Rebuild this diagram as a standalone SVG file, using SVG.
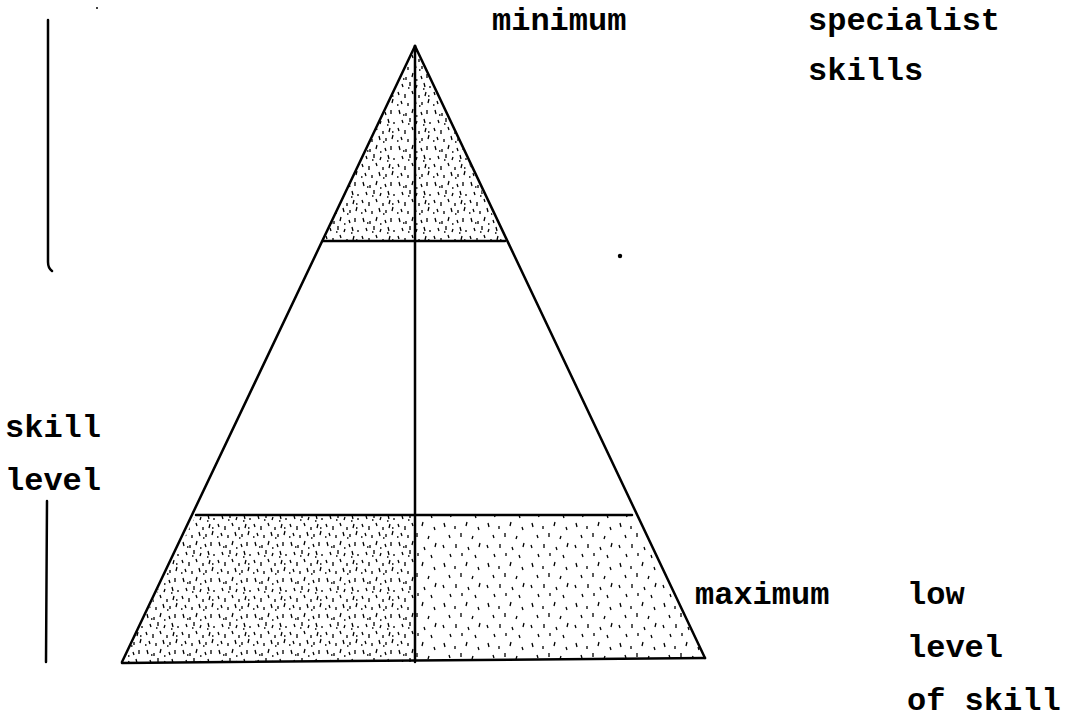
<svg xmlns="http://www.w3.org/2000/svg" width="1076" height="728" viewBox="0 0 1076 728">
<style>
.ln{stroke:#000;stroke-width:2.5;fill:none;stroke-linecap:round}
.t{font-family:"Liberation Mono","DejaVu Sans Mono",monospace;font-weight:bold;font-size:32px;fill:#000}
</style>
<defs>
<pattern id="stip" width="36" height="36" patternUnits="userSpaceOnUse">
<path d="M3 2 l1 4 M10 5 l0 3 M17 1 l-1 4 M25 4 l1 3 M31 2 l0 4 M6 12 l1 3 M14 10 l0 4 M21 13 l-1 3 M28 11 l1 4 M34 14 l0 2 M2 20 l1 3 M9 22 l0 4 M16 19 l1 3 M23 23 l0 3 M30 20 l-1 4 M5 29 l1 3 M12 31 l0 3 M19 28 l1 4 M26 30 l0 3 M33 27 l-1 4" stroke="#000" stroke-width="1.3" fill="none"/>
<path d="M7 7 h1.5 M20 8 h1.5 M12 16 h1.5 M32 24 h1.5 M1 33 h1.5 M23 34 h1.5 M27 17 h1.5" stroke="#000" stroke-width="1.5"/>
</pattern>
<pattern id="stip2" width="44" height="40" patternUnits="userSpaceOnUse">
<path d="M4 3 l1 4 M15 6 l0 3 M27 2 l-1 4 M38 7 l1 3 M9 15 l1 3 M21 13 l0 4 M33 16 l-1 3 M3 25 l1 3 M16 24 l0 4 M28 27 l1 3 M40 23 l-1 4 M10 34 l1 3 M22 33 l0 3 M35 35 l1 3" stroke="#000" stroke-width="1.3" fill="none"/>
</pattern>
</defs>
<g id="top-band">
<polygon points="415,46 323,241 505,241" fill="url(#stip)"/>
</g>
<g id="bottom-band">
<polygon points="196,515 415,515 415,662 122,662" fill="url(#stip)"/>
<polygon points="415,515 632,515 705,658 415,660" fill="url(#stip2)"/>
</g>
<g id="pyramid-lines">
<path class="ln" d="M415 46 L122 662"/>
<path class="ln" d="M415 46 L705 658"/>
<path class="ln" d="M323 241 L505 241"/>
<path class="ln" d="M196 515 L632 515"/>
<path class="ln" d="M122 663 L705 658"/>
<path class="ln" d="M415 46 L415 662"/>
</g>
<g id="skill-axis">
<path class="ln" d="M48 20 L48 262 Q48 268 52 271"/>
<path class="ln" d="M47 501 L46 662"/>
</g>
<circle cx="620" cy="256" r="2.2" fill="#000"/>
<circle cx="97" cy="8" r="1" fill="#000"/>
<g id="labels">
<text class="t" x="492" y="30">minimum</text>
<text class="t" x="808" y="30">specialist</text>
<text class="t" x="808" y="80">skills</text>
<text class="t" x="5" y="437">skill</text>
<text class="t" x="5" y="490">level</text>
<text class="t" x="695" y="604">maximum</text>
<text class="t" x="907" y="604">low</text>
<text class="t" x="907" y="657">level</text>
<text class="t" x="907" y="710">of skill</text>
</g>
</svg>
